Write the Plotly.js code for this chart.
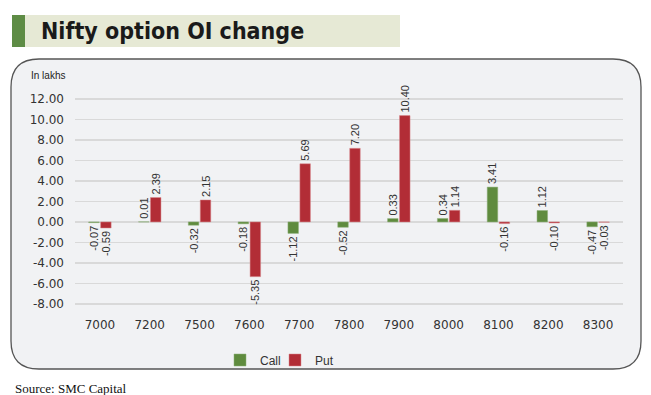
<!DOCTYPE html>
<html><head><meta charset="utf-8">
<script src="https://cdn.plot.ly/plotly-3.0.1.min.js"></script>
<style>html,body{margin:0;padding:0;background:#fff;}#chart{width:651px;height:395px;}</style>
</head><body><div id="chart"></div>
<script>
const strikes = ["7000","7200","7500","7600","7700","7800","7900","8000","8100","8200","8300"];
const callOI = [-0.07, 0.01, -0.32, -0.18, -1.12, -0.52, 0.33, 0.34, 3.41, 1.12, -0.47];
const putOI  = [-0.59, 2.39, 2.15, -5.35, 5.69, 7.20, 10.40, 1.14, -0.16, -0.10, -0.03];
const yTicks = [-8, -6, -4, -2, 0, 2, 4, 6, 8, 10, 12];

const L = 75, R = 28, T = 89, B = 81, W = 651, H = 395;
const pw = W - L - R, ph = H - T - B;
const px = x => (x - L) / pw;
const py = y => (H - B - y) / ph;

function roundRect(x0, y0, x1, y1, r) {
  const a = px(x0), b = px(x1), c = py(y0), d = py(y1);
  const rx = r / pw, ry = r / ph;
  return `M ${a + rx},${c} L ${b - rx},${c} Q ${b},${c} ${b},${c - ry} L ${b},${d + ry} Q ${b},${d} ${b - rx},${d} L ${a + rx},${d} Q ${a},${d} ${a},${d + ry} L ${a},${c - ry} Q ${a},${c} ${a + rx},${c} Z`;
}

const labelFont = {family: "Liberation Sans, Arial, sans-serif", size: 11, color: "#333"};
const traces = [
  {type: "bar", name: "Call", x: strikes, y: callOI, legend: "legend",
   marker: {color: "#5f8b3e", line: {color: "#8fb07a", width: 0.5}},
   text: callOI.map(v => v.toFixed(2)), textposition: "outside", textangle: -90,
   textfont: labelFont, cliponaxis: false, constraintext: "none", hoverinfo: "x+y"},
  {type: "bar", name: "Put", x: strikes, y: putOI, legend: "legend2",
   marker: {color: "#b22d36", line: {color: "#d98a8f", width: 0.5}},
   text: putOI.map(v => v.toFixed(2)), textposition: "outside", textangle: -90,
   textfont: labelFont, cliponaxis: false, constraintext: "none", hoverinfo: "x+y"}
];

const legendFont = {family: "Liberation Sans, Arial, sans-serif", size: 12, color: "#333"};
const layout = {
  width: W, height: H,
  margin: {l: L, r: R, t: T, b: B, pad: 0},
  paper_bgcolor: "#ffffff", plot_bgcolor: "rgba(0,0,0,0)",
  barmode: "group", bargap: 0.52, bargroupgap: 0.12,
  font: {family: "DejaVu Sans, Verdana, sans-serif", color: "#333"},
  xaxis: {type: "category", range: [-0.5, 10.5], showgrid: false, zeroline: false,
          showline: false, ticks: "", tickfont: {family: "DejaVu Sans, Verdana, sans-serif", size: 12, color: "#333"},
          ticklabelstandoff: 2},
  yaxis: {range: [-9, 13], tickvals: yTicks, ticktext: yTicks.map(v => v.toFixed(2)),
          showgrid: true, gridcolor: "#d9d9d9", gridwidth: 1.5, zeroline: false, showline: false,
          ticks: "", tickfont: {family: "DejaVu Sans, Verdana, sans-serif", size: 12, color: "#333"},
          ticklabelstandoff: 10},
  showlegend: true,
  legend: {orientation: "h", x: px(220), xanchor: "left", y: py(360), yanchor: "middle",
           font: legendFont, bgcolor: "rgba(0,0,0,0)", itemwidth: 30},
  legend2: {orientation: "h", x: px(275), xanchor: "left", y: py(360), yanchor: "middle",
           font: legendFont, bgcolor: "rgba(0,0,0,0)", itemwidth: 30},
  shapes: [
    {type: "path", xref: "paper", yref: "paper", layer: "below",
     path: roundRect(11, 59, 641, 369, 28), fillcolor: "#f1f2f4",
     line: {color: "#555", width: 1.3}},
    {type: "rect", xref: "paper", yref: "paper", layer: "below",
     x0: px(12), x1: px(400), y0: py(15), y1: py(47), fillcolor: "#e6e9d5", line: {width: 0}},
    {type: "rect", xref: "paper", yref: "paper", layer: "below",
     x0: px(12), x1: px(25), y0: py(15), y1: py(47), fillcolor: "#5e8c45", line: {width: 0}}
  ],
  annotations: [
    {xref: "paper", yref: "paper", x: px(39), y: py(31), xanchor: "left", yanchor: "middle",
     text: "<b>Nifty option OI change</b>", showarrow: false,
     font: {family: "DejaVu Sans Condensed, DejaVu Sans, sans-serif", size: 23, color: "#1a1a1a"}},
    {xref: "paper", yref: "paper", x: px(29), y: py(75), xanchor: "left", yanchor: "middle",
     text: "In lakhs", showarrow: false,
     font: {family: "Liberation Sans, Arial, sans-serif", size: 10, color: "#222"}},
    {xref: "paper", yref: "paper", x: px(13), y: py(388), xanchor: "left", yanchor: "middle",
     text: "Source: SMC Capital", showarrow: false,
     font: {family: "Liberation Serif, Times New Roman, serif", size: 13, color: "#111"}}
  ]
};

Plotly.newPlot("chart", traces, layout, {displayModeBar: false, staticPlot: true});
</script></body></html>
